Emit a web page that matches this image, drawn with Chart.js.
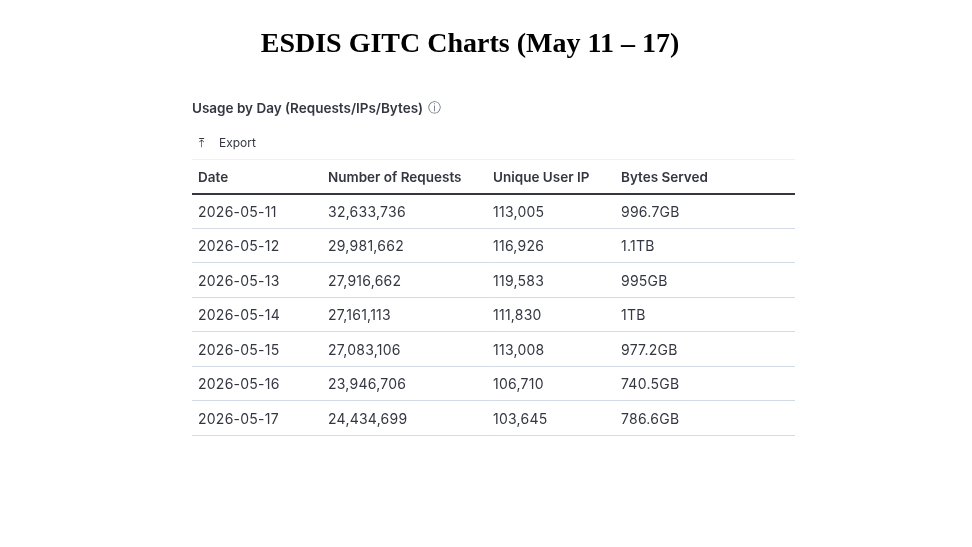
<!DOCTYPE html>
<html>
<head>
<meta charset="utf-8">
<script src="https://cdn.jsdelivr.net/npm/chart.js@4"></script>
<style>
  html, body { margin: 0; padding: 0; background: #fff; }
  #wrap { width: 972px; height: 547px; }
</style>
</head>
<body>
<div id="wrap"><canvas id="myChart" width="972" height="547"></canvas></div>
<script>
const headers = ["Date", "Number of Requests", "Unique User IP", "Bytes Served"];
const dates = ["2026-05-11", "2026-05-12", "2026-05-13", "2026-05-14", "2026-05-15", "2026-05-16", "2026-05-17"];
const requests = ["32,633,736", "29,981,662", "27,916,662", "27,161,113", "27,083,106", "23,946,706", "24,434,699"];
const uniqueIPs = ["113,005", "116,926", "119,583", "111,830", "113,008", "106,710", "103,645"];
const bytesServed = ["996.7GB", "1.1TB", "995GB", "1TB", "977.2GB", "740.5GB", "786.6GB"];

const colX = [198, 328, 493, 621]; // column text positions in px
const textColor = "#343741";

// plugin that draws the title and table text on the chart scales
const tablePlugin = {
  id: "tableText",
  afterDraw(chart) {
    const c = chart.ctx;
    const y = chart.scales.y;
    c.save();
    c.fillStyle = "#000";
    c.textAlign = "center";
    c.textBaseline = "middle";
    c.font = "bold 28px 'Liberation Serif'";
    c.fillText("ESDIS GITC Charts (May 11 \u2013 17)", 470, 45);

    c.textAlign = "left";
    c.fillStyle = textColor;
    c.font = "600 13.5px Inter";
    c.fillText("Usage by Day (Requests/IPs/Bytes)", 192, 109);
    c.font = "13px 'DejaVu Sans'";
    c.fillStyle = "#69707d";
    c.fillText("\u24D8", 428, 109);
    c.fillStyle = textColor;
    c.font = "12px Inter";
    c.fillText("\u2912", 199, 143);
    c.fillText("Export", 219, 143);

    c.font = "600 13.5px Inter";
    headers.forEach((h, i) => c.fillText(h, colX[i], y.getPixelForValue(0.55)));
    c.font = "14px Inter";
    c.letterSpacing = "0.25px";
    dates.forEach((d, r) => {
      const py = y.getPixelForValue(r + 1.55);
      [d, requests[r], uniqueIPs[r], bytesServed[r]].forEach((v, i) => c.fillText(v, colX[i], py));
    });
    c.restore();
  },
};

new Chart(document.getElementById("myChart").getContext("2d"), {
  type: "scatter",
  data: {
    datasets: [
      {
        data: dates.map((d, r) => ({ x: 0, y: r + 1.5 })),
        pointRadius: 0,
      },
    ],
  },
  options: {
    responsive: false,
    animation: false,
    layout: { padding: { top: 159, bottom: 112, left: 192, right: 177 } },
    plugins: { legend: { display: false }, tooltip: { enabled: false } },
    scales: {
      x: { display: false, min: 0, max: 1, grid: { display: false } },
      y: {
        min: 0,
        max: 8,
        reverse: true,
        border: { display: false },
        ticks: { display: false, stepSize: 1 },
        grid: {
          drawTicks: false,
          color: (ctx) => (ctx.tick && ctx.tick.value === 1 ? textColor : ctx.tick && ctx.tick.value === 0 ? "#eef0f3" : "#d3dae6"),
          lineWidth: (ctx) => (ctx.tick && ctx.tick.value === 1 ? 2 : 1),
        },
      },
    },
  },
  plugins: [tablePlugin],
});
</script>
</body>
</html>
